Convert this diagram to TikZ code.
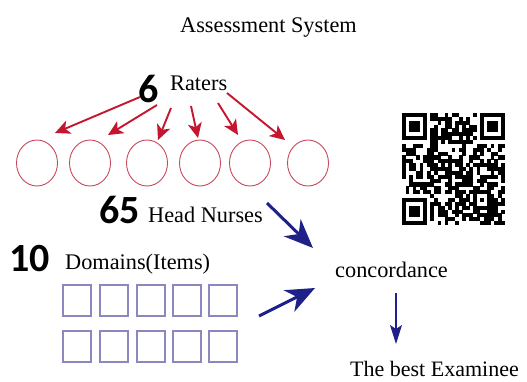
\documentclass[tikz,border=0pt]{standalone}
\usepackage{fontspec}
\setmainfont{Liberation Serif}
\newfontfamily\numfont{Carlito}
\usetikzlibrary{arrows.meta}
\definecolor{rred}{HTML}{C4162E}
\definecolor{cpink}{HTML}{C8485A}
\definecolor{nblue}{HTML}{1E2288}
\definecolor{sqpurple}{HTML}{8A88BE}
\begin{document}
\begin{tikzpicture}[x=1pt,y=-1pt,
  lbl/.style={inner sep=0pt, anchor=base west, font=\fontsize{22.3}{24}\selectfont},
  bignum/.style={inner sep=0pt, anchor=base west, font=\numfont\bfseries\fontsize{40}{40}\selectfont},
  redarrow/.style={draw=rred, line width=1.9pt, -{Stealth[length=15pt,width=14pt,inset=4pt]}},
  bluearrow/.style={draw=nblue, line width=3pt, -{Stealth[length=29pt,width=24pt,inset=9pt]}},
  downarrow/.style={draw=nblue, line width=1.4pt, -{Stealth[length=19pt,width=12pt,inset=4pt]}}
]
\useasboundingbox (0,0) rectangle (527,381);

% title
\node[lbl] (title) at (180,32) {Assessment System};

% raters
\node[bignum] (six) at (138,102) {6};
\node[lbl] (raters) at (170,90) {Raters};

\foreach \n/\cx in {1/37,2/90,3/147,4/200,5/250,6/308}{
  \draw[cpink, line width=0.9pt] (\cx,163) ellipse [x radius=20.5, y radius=23];
  \coordinate (c\n) at (\cx,163);
}

\coordinate (s1) at (140,97);  \coordinate (e1) at (55,133);
\coordinate (s2) at (157,105); \coordinate (e2) at (108,135);
\coordinate (s3) at (171,108); \coordinate (e3) at (158,140);
\coordinate (s4) at (191,106); \coordinate (e4) at (198,138);
\coordinate (s5) at (218,103); \coordinate (e5) at (238,135);
\coordinate (s6) at (227,93);  \coordinate (e6) at (285,140);
\foreach \n in {1,...,6}{ \draw[redarrow] (s\n) -- (e\n); }

% head nurses
\node[bignum] (sixtyfive) at (99,223) {65};
\node[lbl] (nurses) at (148,222) {Head Nurses};

% domains
\node[bignum] (ten) at (9,271) {10};
\node[lbl] (domains) at (65,269) {Domains(Items)};

\foreach \k/\x in {1/63,2/100,3/137,4/173,5/209}{
  \draw[sqpurple, line width=1.1pt] (\x,285) rectangle ++(28,31);
  \draw[sqpurple, line width=1.1pt] (\x,331) rectangle ++(28,31);
}

% concordance
\node[lbl] (conc) at (335,277) {concordance};
\node[lbl, font=\fontsize{22}{24}\selectfont] (best) at (350,376) {The best Examinee};

\coordinate (b1s) at (267,203); \coordinate (b1e) at (313,248);
\coordinate (b2s) at (259,316); \coordinate (b2e) at (315,288);
\draw[bluearrow] (b1s) -- (b1e);
\draw[bluearrow] (b2s) -- (b2e);
\coordinate (ds) at (396,293); \coordinate (de) at (396,344);
\draw[downarrow] (ds) -- (de);

% QR code
\begin{scope}[shift={(402,113)}, x=3.55pt, y=-3.86pt]
  \pgfmathsetseed{271828}
  \foreach \i in {0,...,28}{
    \foreach \j in {0,...,28}{
      \pgfmathtruncatemacro\qskip{((\i<8 && \j<8) || (\i>20 && \j<8) || (\i<8 && \j>20) || (\i>19 && \i<25 && \j>19 && \j<25)) ? 1 : 0}
      \ifnum\qskip=0
        \pgfmathtruncatemacro\qr{rnd<0.55 ? 1 : 0}
        \ifnum\qr=1
          \fill[black] (\i,\j) rectangle ++(1.05,1.05);
        \fi
      \fi
    }
  }
  \foreach \ox/\oy in {0/0,22/0,0/22}{
    \fill[black] (\ox,\oy) rectangle ++(7,7);
    \fill[white] (\ox+1,\oy+1) rectangle ++(5,5);
    \fill[black] (\ox+2,\oy+2) rectangle ++(3,3);
  }
  \fill[black] (20,20) rectangle ++(5,5);
  \fill[white] (21,21) rectangle ++(3,3);
  \fill[black] (22,22) rectangle ++(1,1);
\end{scope}
\end{tikzpicture}
\end{document}
